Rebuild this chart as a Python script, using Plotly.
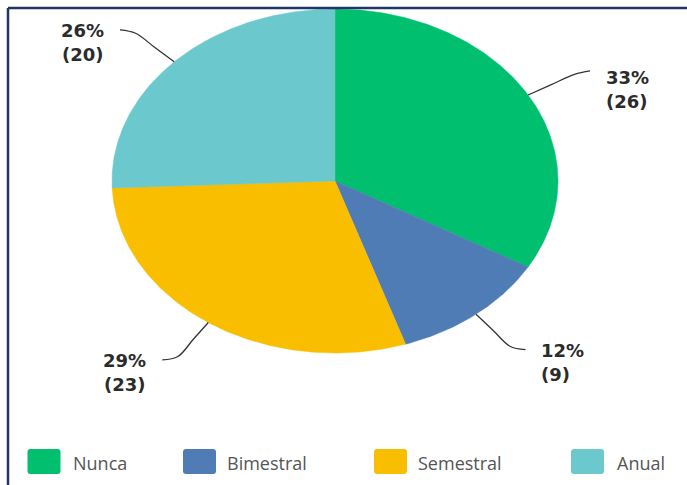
import numpy as np
import plotly.graph_objects as go

# Survey answers: how often?
categories = ["Nunca", "Bimestral", "Semestral", "Anual"]
counts = [26, 9, 23, 20]
colors = ["#00BF6F", "#507CB6", "#F9BE00", "#6BC8CD"]

W, H = 687, 485
CX, CY = 335, 181      # pie centre in px
RX, RY = 223, 172      # horizontal / vertical radius in px (oval pie)

LABEL_FONT = dict(family="DejaVu Sans", size=18, color="#2b2b2b", weight="bold")
LEGEND_FONT = dict(family="Open Sans", size=18, color="#555555")
BORDER = "#1F3567"


def px_x(p):
    return p / W


def px_y(p):
    return 1 - p / H


total = sum(counts)
fig = go.Figure()

# Slices as filled polygons on a unit circle; the axis ranges stretch it into an oval.
start = 0.0
mids = []
for name, v, col in zip(categories, counts, colors):
    span = 360.0 * v / total
    th = np.radians(np.linspace(start, start + span, max(int(span * 2), 3)))
    xs = np.concatenate([[0], np.sin(th), [0]])
    ys = np.concatenate([[0], np.cos(th), [0]])
    fig.add_trace(go.Scatter(
        x=xs, y=ys, mode="lines", fill="toself", fillcolor=col,
        line=dict(color=col, width=0.5), name=name,
        hoverinfo="name", showlegend=False,
    ))
    mids.append(start + span / 2)
    start += span

# Leader lines and value labels (percentage line, then count line)
shift_up = {"Nunca": -6}
for name, v, m in zip(categories, counts, mids):
    a = np.radians(m)
    s, c = np.sin(a), np.cos(a)
    side = 1 if s >= 0 else -1
    vert = 1 if c >= 0 else -1
    ex, ey = 1.24 * s, 1.24 * c
    lx = [s, 1.12 * s, ex, ex + side * 0.07]
    ly = [c, 1.12 * c, ey, ey + vert * 0.02]
    fig.add_trace(go.Scatter(
        x=lx, y=ly, mode="lines", line=dict(color="#333333", width=1.3, shape="spline"),
        hoverinfo="skip", showlegend=False,
    ))
    pct = round(100 * v / total)
    base = shift_up.get(name, 0)
    for k, line in enumerate([f"{pct}%", f"({v})"]):
        fig.add_annotation(
            x=lx[-1], y=ly[-1], xref="x", yref="y",
            text=line, showarrow=False,
            xanchor="left" if side > 0 else "right", yanchor="middle",
            xshift=14 * side, yshift=base - 24 * k - 1,
            font=LABEL_FONT,
        )

# Legend: rounded swatches with text
sw_left = [27.5, 183, 374, 571]
txt_left = [71, 225, 416, 615]
sw_w, sw_top, sw_bot = 33, 449, 474
r = 3
for name, col, sl, tl in zip(categories, colors, sw_left, txt_left):
    x0, x1 = px_x(sl), px_x(sl + sw_w)
    y0, y1 = px_y(sw_bot), px_y(sw_top)
    rx, ry = r / W, r / H
    path = (f"M{x0+rx},{y0} L{x1-rx},{y0} Q{x1},{y0} {x1},{y0+ry} "
            f"L{x1},{y1-ry} Q{x1},{y1} {x1-rx},{y1} L{x0+rx},{y1} "
            f"Q{x0},{y1} {x0},{y1-ry} L{x0},{y0+ry} Q{x0},{y0} {x0+rx},{y0} Z")
    fig.add_shape(type="path", path=path, xref="paper", yref="paper",
                  fillcolor=col, line=dict(width=0))
    fig.add_annotation(x=px_x(tl), y=px_y(463), xref="paper", yref="paper",
                       text=name, showarrow=False, xanchor="left", yanchor="middle",
                       font=LEGEND_FONT)

# Frame lines along the top and left
fig.add_shape(type="line", xref="paper", yref="paper",
              x0=px_x(8), x1=1, y0=px_y(8), y1=px_y(8),
              line=dict(color=BORDER, width=2.5))
fig.add_shape(type="line", xref="paper", yref="paper",
              x0=px_x(8), x1=px_x(8), y0=px_y(8), y1=0,
              line=dict(color=BORDER, width=2.5))

fig.update_xaxes(range=[-CX / RX, (W - CX) / RX], visible=False, fixedrange=True)
fig.update_yaxes(range=[(CY - H) / RY, CY / RY], visible=False, fixedrange=True)
fig.update_layout(
    width=W, height=H, margin=dict(l=0, r=0, t=0, b=0),
    paper_bgcolor="white", plot_bgcolor="white", showlegend=False,
)

fig.write_html("out.html")
